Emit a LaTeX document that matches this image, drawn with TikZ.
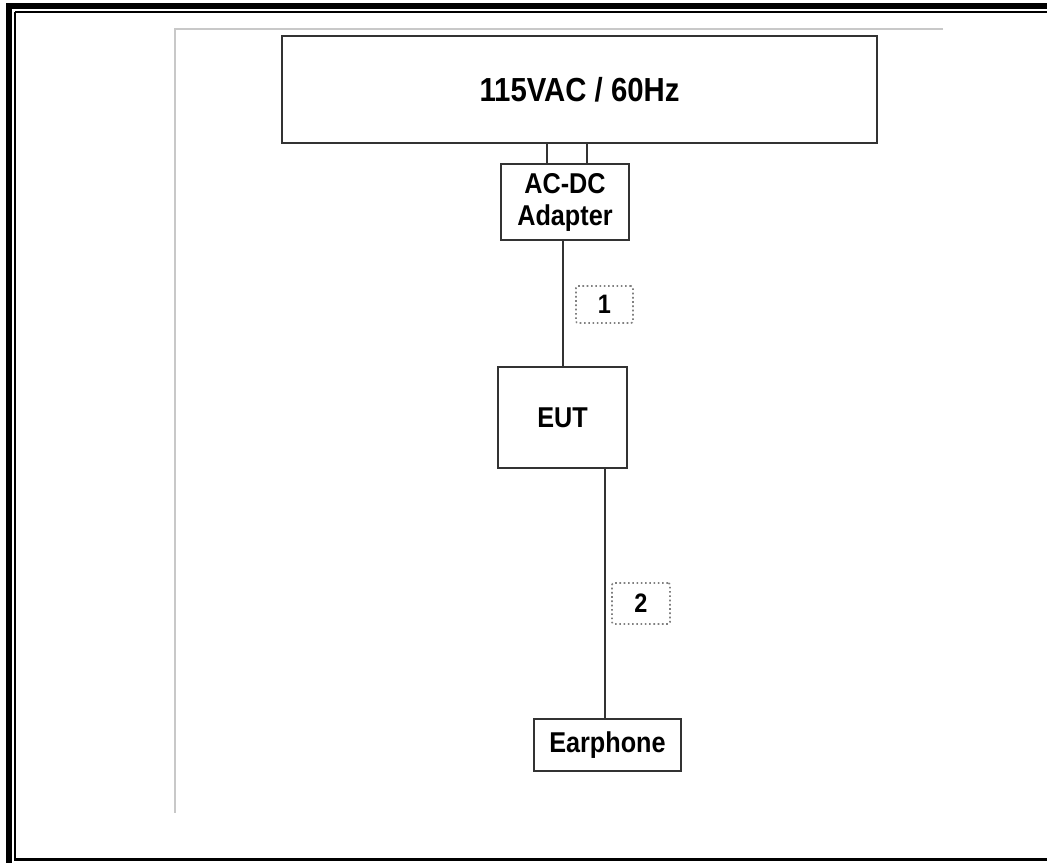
\documentclass[tikz,border=0pt]{standalone}
\usepackage{fontspec}
\newfontfamily\labfont{Liberation Sans}[FakeStretch=0.88]
\usetikzlibrary{calc}
\definecolor{linegray}{HTML}{333333}
\definecolor{framegray}{HTML}{C8C8C8}
\tikzset{
  box/.style={draw=linegray, line width=1.6pt, rectangle, inner sep=0pt, align=center,
    font=\labfont\bfseries\fontsize{21.5}{24}\selectfont},
  tag/.style={draw=gray, dotted, line width=1.2pt, rounded corners=1.5pt, rectangle, inner sep=0pt,
    font=\labfont\bfseries\fontsize{20}{22}\selectfont},
  wire/.style={draw=linegray, line width=1.6pt},
  guide/.style={draw=framegray, line width=1.8pt}
}
\begin{document}
\begin{tikzpicture}[x=0.75pt,y=-0.75pt]
\useasboundingbox (0,0) rectangle (1047,863);
\clip (0,0) rectangle (1047,863);
\fill[white] (0,0) rectangle (1047,863);
% page frame
\draw[black, line width=4.5pt] (9,6) rectangle (1100,900);
\draw[black, line width=1.9pt] (15,12) -- (15,859.5) -- (1100,859.5);
\draw[black, line width=1.9pt] (15,12) -- (1100,12);
% grey guides
\draw[guide] (943,29) -- (175,29) -- (175,813);
% nodes
\node[box, minimum width=595*0.75pt, minimum height=107*0.75pt, font=\labfont\bfseries\fontsize{25}{28}\selectfont] (ac) at (579.5,89.5) {115VAC / 60Hz};
\node[box, minimum width=128*0.75pt, minimum height=76*0.75pt] (adapter) at (565,202) {AC-DC\\Adapter};
\node[box, minimum width=129*0.75pt, minimum height=101*0.75pt] (eut) at (562.5,417.5) {EUT};
\node[box, minimum width=147*0.75pt, minimum height=52*0.75pt] (ear) at (607.5,745) {Earphone};
\node[tag, minimum width=57*0.75pt, minimum height=37*0.75pt] (l1) at (604.5,304.5) {1};
\node[tag, minimum width=58*0.75pt, minimum height=41*0.75pt] (l2) at (641,603.5) {2};
% connectors
\coordinate (p1) at ([xshift=-13.5pt]adapter.north);
\coordinate (p2) at ([xshift=16.5pt]adapter.north);
\draw[wire] (p1) -- (p1 |- ac.south);
\draw[wire] (p2) -- (p2 |- ac.south);
\coordinate (c1) at ([xshift=-1.5pt]adapter.south);
\draw[wire] (c1) -- (c1 |- eut.north);
\coordinate (c2) at ([xshift=-1.9pt]ear.north);
\draw[wire] (c2) -- (c2 |- eut.south);
\end{tikzpicture}
\end{document}
